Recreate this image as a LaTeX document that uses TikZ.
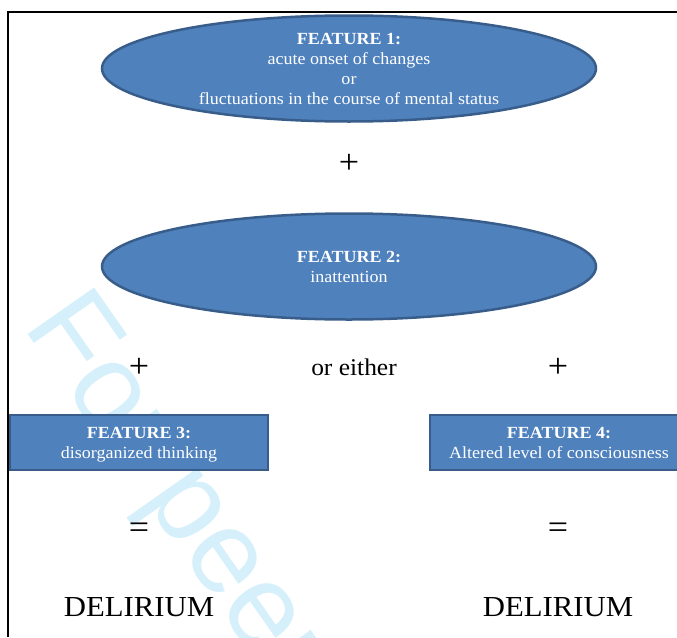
\documentclass[tikz,border=0pt]{standalone}
\usepackage{fontspec}
\setmainfont{Liberation Serif}[FakeStretch=1.06]
\newfontfamily\wmfont{Liberation Sans}
\usetikzlibrary{shapes.geometric}
\definecolor{featfill}{RGB}{79,129,189}
\definecolor{featline}{RGB}{56,93,138}
\definecolor{wmcolor}{RGB}{214,240,251}
\newcommand{\topln}{\rule{0pt}{16pt}}
\newcommand{\botln}{\rule[-4pt]{0pt}{4pt}}
\begin{document}
\begin{tikzpicture}[x=1pt,y=-1pt,
  feat/.style={fill=featfill, draw=featline, line width=2.5pt, text=white,
    font=\fontsize{17}{20}\selectfont, align=center, inner sep=0pt},
  featell/.style={feat, ellipse, inner ysep=-3pt, minimum width=494pt, minimum height=106pt},
  featbox/.style={feat, rectangle, minimum width=258pt, minimum height=55pt},
  sign/.style={font=\fontsize{24}{28}\selectfont, inner sep=0pt},
  op/.style={font=\fontsize{34}{38}\selectfont, inner sep=0pt},
  result/.style={font=\fontsize{29}{33}\selectfont, inner sep=0pt},
  watermark/.style={anchor=base west, rotate=-55, inner sep=0pt, text=wmcolor,
    font=\wmfont\fontsize{118}{118}\selectfont},
  frame/.style={line width=2pt, black}]
\useasboundingbox (0,0) rectangle (677,637);
\clip (0,0) rectangle (677,637);
% watermark
\node[watermark] (wm) at (22,326) {For peer review only};
% frame
\coordinate (fbl) at (8,637);
\coordinate (ftl) at (8,12);
\coordinate (ftr) at (677,12);
\draw[frame] (fbl) -- (ftl) -- (ftr);
% features
\node[featell] (f1) at (349,68.5) {\textbf{FEATURE 1:}\\acute onset of changes\\or\\fluctuations in the course of mental status};
\node[featell] (f2) at (349,266.5) {\topln\textbf{FEATURE 2:}\\inattention\botln};
\node[featbox] (f3) at (139,442.5) {\topln\textbf{FEATURE 3:}\\disorganized thinking\botln};
\node[featbox] (f4) at (559,442.5) {\topln\textbf{FEATURE 4:}\\Altered level of consciousness\botln};
% signs
\node[op] (p1) at (349,164) {+};
\node[op] (p2) at (139,368) {+};
\node[sign] (oe) at (354,367) {or either};
\node[op] (p3) at (558,368) {+};
\node[op] (eq1) at (139,531) {=};
\node[op] (eq2) at (558,531) {=};
\node[result] (d1) at (139,607) {DELIRIUM};
\node[result] (d2) at (558,607) {DELIRIUM};
\end{tikzpicture}
\end{document}
